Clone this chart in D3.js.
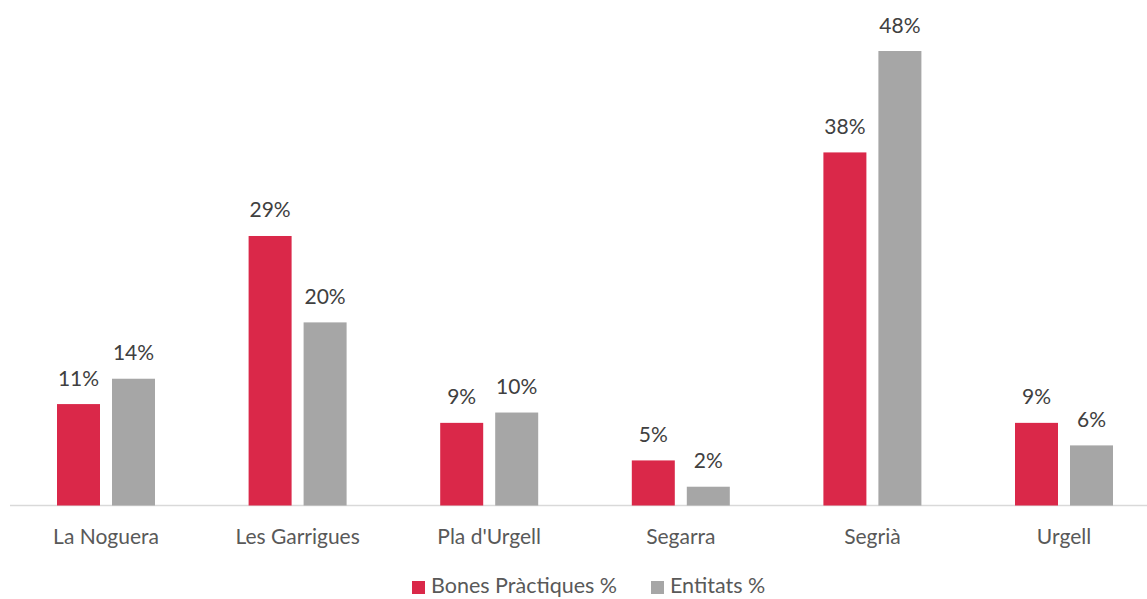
<!DOCTYPE html>
<html><head><meta charset="utf-8">
<script src="https://cdn.jsdelivr.net/npm/d3@7"></script>
<style>html,body{margin:0;padding:0;background:#fff;}svg{display:block;}</style>
</head><body>
<svg id="c" width="1147" height="599"></svg>
<script>
const categories = ["La Noguera", "Les Garrigues", "Pla d'Urgell", "Segarra", "Segrià", "Urgell"];
const seriesNames = ["Bones Pràctiques %", "Entitats %"];
const bonesPractiques = [10.8, 28.7, 8.8, 4.8, 37.6, 8.8];
const entitats = [13.5, 19.5, 9.9, 2.0, 48.4, 6.4];
const colors = ["#DA2849", "#A6A6A6"];

const svg = d3.select("#c");
const font = "Lato, 'Open Sans', sans-serif";
const baseY = 505.5;
const x = d3.scaleBand().domain(categories).range([10.2, 10.2 + 191.6 * 6]).paddingInner(0).paddingOuter(0);
const y = d3.scaleLinear().domain([0, 48.4]).range([baseY, 51]);
const bw = 43, gap = 12;
const series = [bonesPractiques, entitats];

// axis line
svg.append("line").attr("x1", 10).attr("x2", 1147).attr("y1", baseY).attr("y2", baseY)
  .attr("stroke", "#D9D9D9").attr("stroke-width", 1.3);

series.forEach((vals, si) => {
  const g = svg.append("g");
  const xo = c => x(c) + x.bandwidth() / 2 - (bw * 2 + gap) / 2 + si * (bw + gap);
  g.selectAll("rect").data(categories).join("rect")
    .attr("x", c => xo(c))
    .attr("width", bw)
    .attr("y", (c, i) => y(vals[i]))
    .attr("height", (c, i) => baseY - y(vals[i]))
    .attr("fill", colors[si]);
  g.selectAll("text").data(categories).join("text")
    .attr("x", c => xo(c) + bw / 2)
    .attr("y", (c, i) => y(vals[i]) - 18.5)
    .attr("text-anchor", "middle")
    .attr("font-family", font).attr("font-size", 21).attr("fill", "#404040")
    .text((c, i) => Math.round(vals[i]) + "%");
});

// category labels
svg.append("g").selectAll("text").data(categories).join("text")
  .attr("x", c => x(c) + x.bandwidth() / 2)
  .attr("y", 544)
  .attr("text-anchor", "middle")
  .attr("font-family", font).attr("font-size", 21).attr("fill", "#595959")
  .text(c => c);

// legend
const legendItems = [{name: seriesNames[0], x: 412, tx: 431, color: colors[0]}, {name: seriesNames[1], x: 651, tx: 670, color: colors[1]}];
const lg = svg.append("g");
legendItems.forEach(d => {
  lg.append("rect").attr("x", d.x).attr("y", 581).attr("width", 13).attr("height", 13).attr("fill", d.color);
  lg.append("text").attr("x", d.tx).attr("y", 593)
    .attr("font-family", font).attr("font-size", 21.5).attr("fill", "#595959").text(d.name);
});
</script>
</body></html>
